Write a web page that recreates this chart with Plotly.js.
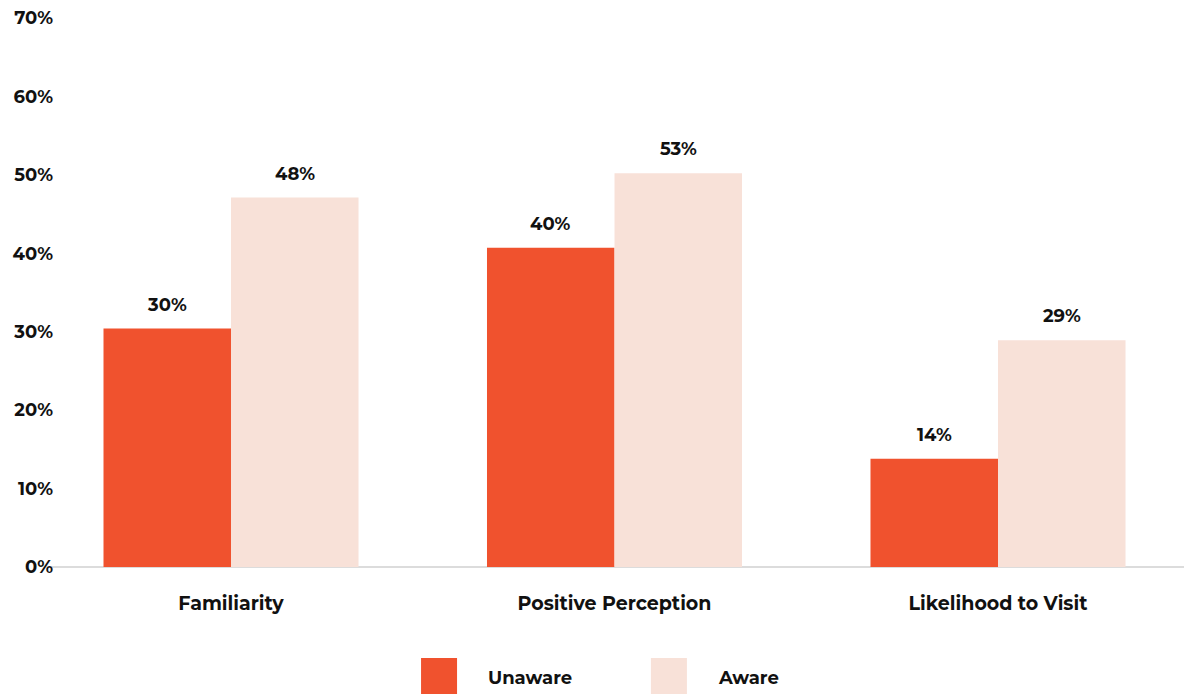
<!DOCTYPE html>
<html><head><meta charset="utf-8">
<script src="https://cdn.plot.ly/plotly-3.0.1.min.js"></script>
<style>html,body{margin:0;padding:0;background:#fff}#chart{width:1184px;height:696px}</style>
</head><body><div id="chart"></div>
<script>
const categories = ["Familiarity", "Positive Perception", "Likelihood to Visit"];
const seriesNames = ["Unaware", "Aware"];
const unawareValues = [30.4, 40.7, 13.8];
const awareValues = [47.1, 50.2, 28.9];
const unawareLabels = ["30%", "40%", "14%"];
const awareLabels = ["48%", "53%", "29%"];
const yTicks = [0, 10, 20, 30, 40, 50, 60, 70];

const colors = ["#F0522E", "#F8E1D8"];
const FONT = "Montserrat, Inter, 'Open Sans', sans-serif";
const xIdx = categories.map((c, i) => i);

const traces = [
  {type: "bar", name: seriesNames[0], x: xIdx, y: unawareValues, marker: {color: colors[0]}, showlegend: false, hoverinfo: "skip"},
  {type: "bar", name: seriesNames[1], x: xIdx, y: awareValues, marker: {color: colors[1]}, showlegend: false, hoverinfo: "skip"}
];

const annotations = [];
const shapes = [];
const series = [[unawareValues, unawareLabels, -64], [awareValues, awareLabels, 64]];
series.forEach(([vals, labs, dx]) => {
  vals.forEach((v, i) => {
    annotations.push({x: xIdx[i], y: v, xref: "x", yref: "y", text: labs[i], showarrow: false,
      xshift: dx, yshift: 24, font: {family: FONT, size: 18, color: "#111", weight: 700}, xanchor: "center", yanchor: "middle"});
  });
});
// legend
const legX = [0.3272, 0.5299];
seriesNames.forEach((n, i) => {
  shapes.push({type: "rect", xref: "paper", yref: "paper", x0: legX[i], x1: legX[i] + 36/1134, y0: -0.1658, y1: -0.1658 - 36/549,
    fillcolor: colors[i], line: {width: 0}});
  annotations.push({xref: "paper", yref: "paper", x: legX[i] + 65/1134, y: -0.2022, text: n, showarrow: false,
    xanchor: "left", yanchor: "middle", font: {family: FONT, size: 18, color: "#111", weight: 700}});
});

const layout = {
  width: 1184, height: 696,
  margin: {l: 50, r: 0, t: 18, b: 129},
  paper_bgcolor: "#fff", plot_bgcolor: "#fff",
  barmode: "group", bargap: 0.335, bargroupgap: 0,
  font: {family: FONT, size: 18, color: "#111", weight: 700},
  xaxis: {range: [-0.472, 2.485], tickvals: xIdx, ticktext: categories, showgrid: false, zeroline: false,
    showline: false, ticks: "outside", ticklen: 19, tickcolor: "rgba(0,0,0,0)",
    tickfont: {family: FONT, size: 19, color: "#111", weight: 700}},
  yaxis: {range: [0, 70], tickvals: yTicks, ticktext: yTicks.map(v => v + "%"), showgrid: false,
    zeroline: true, zerolinecolor: "#dcdcdc", zerolinewidth: 2, showline: false, ticks: "",
    tickfont: {family: FONT, size: 18, color: "#111", weight: 700}, ticklabelstandoff: -4},
  annotations: annotations, shapes: shapes, showlegend: false
};
Plotly.newPlot("chart", traces, layout, {displayModeBar: false, staticPlot: true});
</script></body></html>
